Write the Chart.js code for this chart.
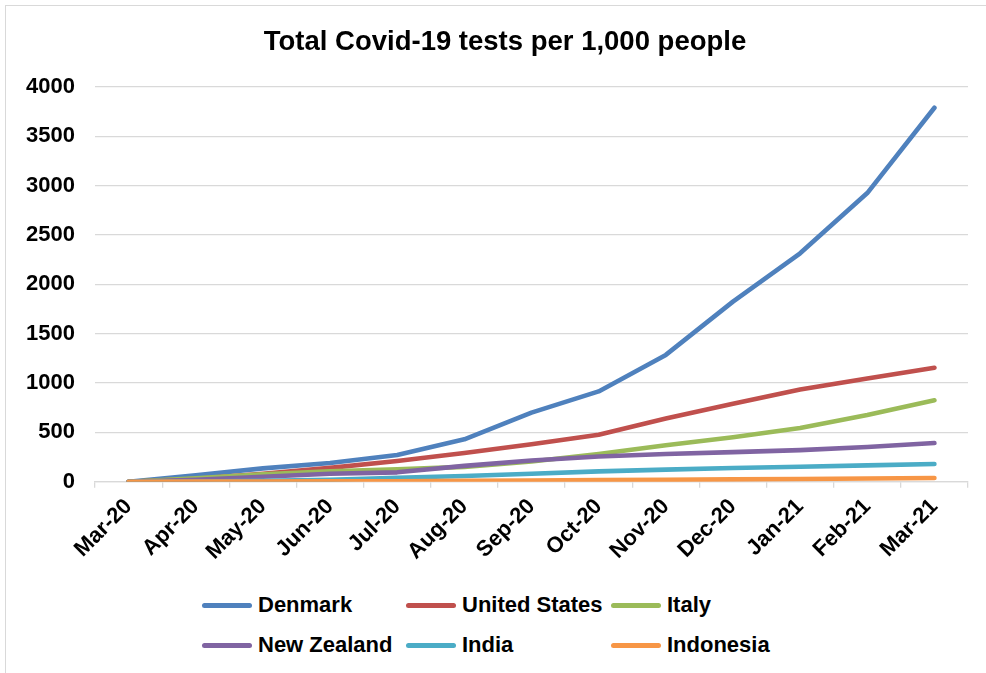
<!DOCTYPE html>
<html>
<head>
<meta charset="utf-8">
<script src="https://cdn.jsdelivr.net/npm/chart.js@4.4.1/dist/chart.umd.min.js"></script>
<style>
  html, body { margin: 0; padding: 0; background: #fff; overflow: hidden; }
  body { width: 986px; height: 673px; position: relative; font-family: "Liberation Sans", Arial, sans-serif; }
  #frame { position: absolute; left: 5px; top: 5px; width: 1100px; height: 800px; border: 1px solid #d9d9d9; box-sizing: border-box; }
  #wrap { position: absolute; left: 6px; top: 6px; width: 998px; height: 576px; }
  .leg { position: absolute; display: flex; align-items: center; font-weight: bold; font-size: 22px; color: #000; white-space: nowrap; }
  .leg .swatch { width: 50px; height: 5px; border-radius: 3px; margin-right: 6px; }
</style>
</head>
<body>
<div id="frame"></div>
<div id="wrap"><canvas id="chart"></canvas></div>
<div id="legend"></div>
<script>
// Month labels
const months = ['Mar-20','Apr-20','May-20','Jun-20','Jul-20','Aug-20','Sep-20','Oct-20','Nov-20','Dec-20','Jan-21','Feb-21','Mar-21'];

// Cumulative tests per 1,000 people
const denmark      = [0, 65, 135, 190, 270, 430, 700, 915, 1285, 1825, 2315, 2925, 3790];
const unitedStates = [0, 30, 80, 140, 210, 290, 380, 475, 640, 790, 935, 1045, 1155];
const italy        = [0, 35, 75, 105, 125, 150, 205, 280, 370, 450, 545, 675, 825];
const newZealand   = [0, 20, 50, 80, 95, 160, 215, 255, 280, 300, 320, 352, 392];
const india        = [0, 2, 8, 20, 40, 58, 80, 105, 122, 139, 152, 165, 179];
const indonesia    = [0, 1, 2, 3, 5, 8, 12, 16, 20, 24, 28, 32, 37];

const yTicks = [0, 500, 1000, 1500, 2000, 2500, 3000, 3500, 4000];

const seriesNames  = ['Denmark', 'United States', 'Italy', 'New Zealand', 'India', 'Indonesia'];
const seriesData   = [denmark, unitedStates, italy, newZealand, india, indonesia];
const seriesColors = ['#4f81bd', '#c0504d', '#9bbb59', '#8064a2', '#4bacc6', '#f79646'];

const FONT = '"Liberation Sans", Arial, sans-serif';

const datasets = seriesNames.map((name, i) => ({
  label: name,
  data: seriesData[i],
  borderColor: seriesColors[i],
  backgroundColor: seriesColors[i],
  borderWidth: 4.6,
  borderCapStyle: 'round',
  borderJoinStyle: 'round',
  pointRadius: 0,
  tension: 0,
  fill: false,
  order: seriesNames.length - i  // later series drawn on top
}));

const chart = new Chart(document.getElementById('chart'), {
  type: 'line',
  data: { labels: months, datasets },
  options: {
    responsive: true,
    maintainAspectRatio: false,
    animation: false,
    layout: { padding: 0 },
    plugins: {
      legend: { display: false },
      tooltip: { enabled: false },
      title: {
        display: true,
        text: 'Total Covid-19 tests per 1,000 people',
        color: '#000',
        font: { family: FONT, size: 27.5, weight: 'bold' },
        padding: { top: 20, bottom: 28 }
      }
    },
    scales: {
      x: {
        type: 'category',
        offset: true,
        grid: {
          offset: true,
          drawOnChartArea: false,
          drawTicks: true,
          tickLength: 6,
          color: '#d9d9d9',
          lineWidth: 1.3
        },
        border: { display: true, color: '#d9d9d9', width: 1.3 },
        ticks: {
          autoSkip: false,
          minRotation: 45,
          maxRotation: 45,
          padding: 6,
          color: '#000',
          font: { family: FONT, size: 22, weight: 'bold' }
        },
        afterFit: (scale) => { scale.height = 100.3; }
      },
      y: {
        min: 0,
        max: 4000,
        afterBuildTicks: (scale) => { scale.ticks = yTicks.map(v => ({ value: v })); },
        grid: { drawTicks: false, color: '#d9d9d9', lineWidth: 1.3 },
        border: { display: false },
        ticks: {
          padding: 20,
          color: '#000',
          font: { family: FONT, size: 22, weight: 'bold' },
          callback: (v) => String(v)
        },
        afterFit: (scale) => { scale.width = 89; }
      },
      // empty margin on the right of the plot
      yRight: {
        type: 'linear',
        position: 'right',
        display: true,
        grid: { display: false, drawTicks: false },
        border: { display: false },
        ticks: { display: false },
        afterFit: (scale) => { scale.width = 36; }
      }
    }
  }
});

// Legend laid out as a 3-column grid below the chart
const legendCols = [202, 406, 611];
const legendRows = [605, 645];
const legendEl = document.getElementById('legend');
chart.data.datasets.forEach((ds, i) => {
  const item = document.createElement('div');
  item.className = 'leg';
  item.style.left = legendCols[i % 3] + 'px';
  item.style.top = (legendRows[Math.floor(i / 3)] - 13) + 'px';
  item.style.height = '26px';
  const sw = document.createElement('span');
  sw.className = 'swatch';
  sw.style.background = ds.borderColor;
  const tx = document.createElement('span');
  tx.textContent = ds.label;
  item.appendChild(sw);
  item.appendChild(tx);
  legendEl.appendChild(item);
});
</script>
</body>
</html>
